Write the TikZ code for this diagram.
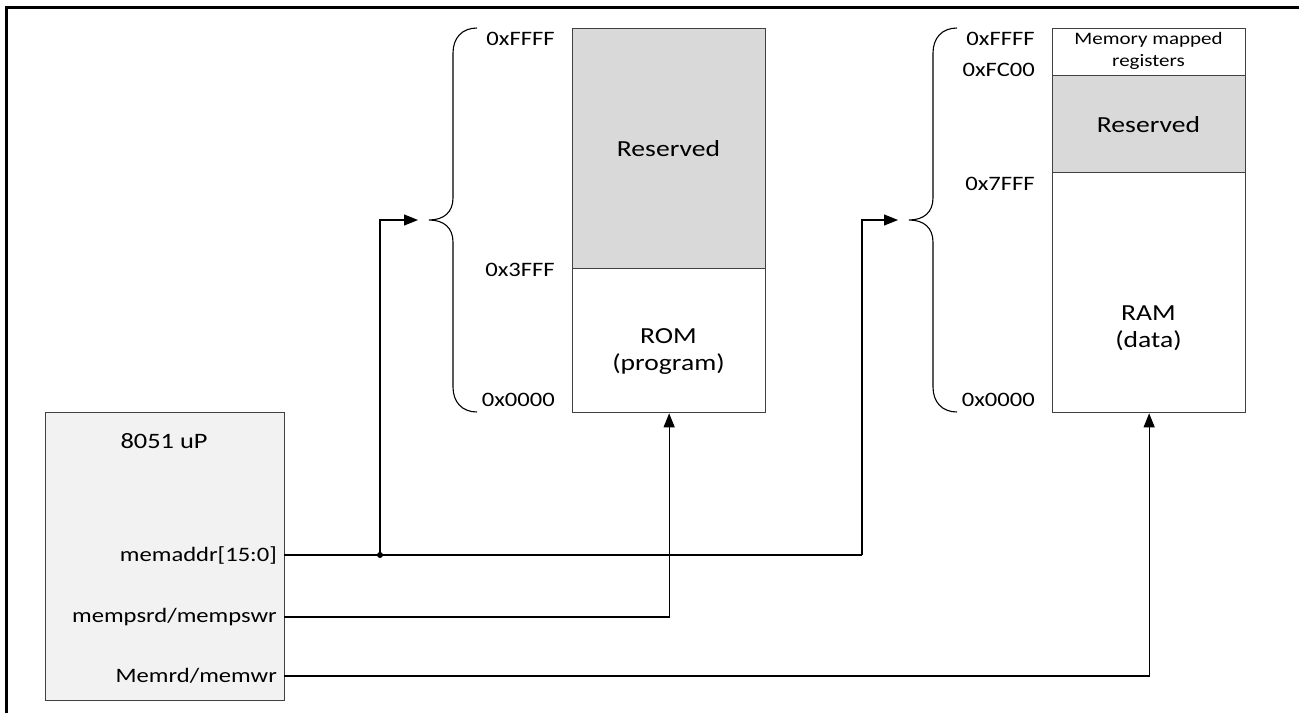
\documentclass[tikz,border=0pt]{standalone}
\usepackage{fontspec}
\setmainfont[FakeStretch=1.2]{Carlito}
\usetikzlibrary{arrows.meta}
\definecolor{boxline}{HTML}{404040}
\definecolor{resgray}{HTML}{D9D9D9}
\definecolor{cpugray}{HTML}{F2F2F2}
\tikzset{
  membox/.style={draw=boxline, line width=1.3pt, rectangle, inner sep=0pt, anchor=north west},
  addr/.style={anchor=east, inner sep=0pt, font=\fontsize{20.5}{24}\selectfont},
  txt/.style={inner sep=0pt, align=center, font=\fontsize{23}{27}\selectfont},
  port/.style={inner sep=0pt, anchor=east, font=\fontsize{20.5}{24}\selectfont},
  wire/.style={draw=black, line width=1.1pt},
  arr/.style={wire, -{Triangle[length=14pt,width=11pt]}},
  brace/.style={draw=black, line width=1.1pt}
}
\begin{document}
\begin{tikzpicture}[x=1pt, y=-1pt]
\useasboundingbox (0,0) rectangle (1299,713);
% frame
\draw[line width=2.4pt] (6.5,713) -- (6.5,7.5) -- (1299,7.5);

% ROM memory
\node[membox, fill=resgray, minimum width=193pt, minimum height=240pt] (romres) at (572,28) {};
\node[membox, fill=white, minimum width=193pt, minimum height=144pt] (rom) at (572,268) {};
\node[txt] at (668.5,149) {Reserved};
\node[txt] at (668.5,352) {ROM\\(program)};
\node[addr] (a1) at (555,39) {0xFFFF};
\node[addr] (a2) at (555,270) {0x3FFF};
\node[addr] (a3) at (555,400) {0x0000};

% RAM memory
\node[membox, fill=white, minimum width=193pt, minimum height=47pt] (mmr) at (1052,28) {};
\node[membox, fill=resgray, minimum width=193pt, minimum height=97pt] (ramres) at (1052,75) {};
\node[membox, fill=white, minimum width=193pt, minimum height=240pt] (ram) at (1052,172) {};
\node[inner sep=0pt, align=center, font=\fontsize{17.5}{22}\selectfont] at (1148.5,51) {Memory mapped\\registers};
\node[txt] at (1148.5,125) {Reserved};
\node[txt] at (1148.5,328) {RAM\\(data)};
\node[addr] (b1) at (1035,39) {0xFFFF};
\node[addr] (b2) at (1035,70) {0xFC00};
\node[addr] (b3) at (1035,183.5) {0x7FFF};
\node[addr] (b4) at (1035,400) {0x0000};

% braces
\draw[brace] (477,28) .. controls (462,28) and (453,38) .. (453,53) -- (453,198)
  .. controls (453,212) and (444,220) .. (429,220)
  .. controls (444,220) and (453,228) .. (453,242) -- (453,387)
  .. controls (453,402) and (462,412) .. (477,412);
\coordinate (br1) at (418,220);
\draw[brace] (957,28) .. controls (942,28) and (933,38) .. (933,53) -- (933,198)
  .. controls (933,212) and (924,220) .. (909,220)
  .. controls (924,220) and (933,228) .. (933,242) -- (933,387)
  .. controls (933,402) and (942,412) .. (957,412);
\coordinate (br2) at (898,220);

% CPU
\node[membox, fill=cpugray, minimum width=239pt, minimum height=288pt] (cpu) at (45,412) {};
\node[txt, font=\fontsize{22}{27}\selectfont] at (164,441) {8051 uP};
\node[port] (p1) at (277,555) {memaddr[15:0]};
\node[port] (p2) at (277,617) {mempsrd/mempswr};
\node[port] (p3) at (277,676) {Memrd/memwr};
\coordinate (c1) at (284,555);
\coordinate (c2) at (284,617);
\coordinate (c3) at (284,676);
\coordinate (j) at (380,555);

% wires
\draw[wire] (c1) -- (862,555);
\draw[arr] (j) |- (br1);
\draw[arr] (862,555) |- (br2);
\fill (j) circle (3pt);
\draw[arr] (c2) -| (rom.south);
\draw[arr] (c3) -| (ram.south);
\end{tikzpicture}
\end{document}
